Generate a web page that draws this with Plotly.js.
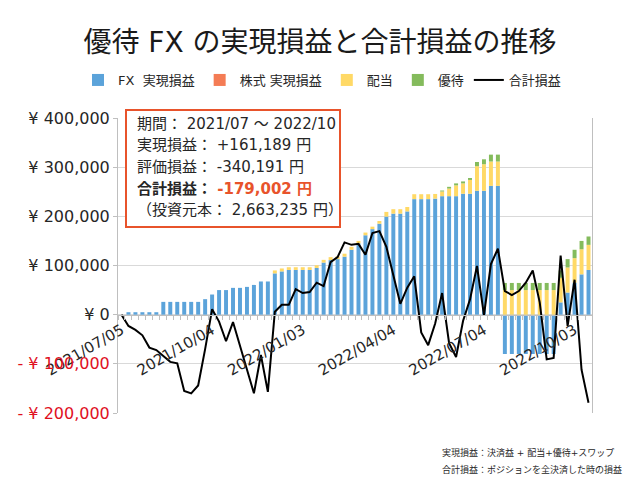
<!DOCTYPE html>
<html><head><meta charset="utf-8">
<script src="https://cdn.plot.ly/plotly-3.0.1.min.js"></script>
<style>html,body{margin:0;padding:0;background:#fff}#chart{width:640px;height:480px}</style>
</head><body><div id="chart"></div>
<script>
const weeks = [
 "2021/07/05","2021/07/12","2021/07/19","2021/07/26","2021/08/02","2021/08/09","2021/08/16","2021/08/23","2021/08/30","2021/09/06",
 "2021/09/13","2021/09/20","2021/09/27","2021/10/04","2021/10/11","2021/10/18","2021/10/25","2021/11/01","2021/11/08","2021/11/15",
 "2021/11/22","2021/11/29","2021/12/06","2021/12/13","2021/12/20","2021/12/27","2022/01/03","2022/01/10","2022/01/17","2022/01/24",
 "2022/01/31","2022/02/07","2022/02/14","2022/02/21","2022/02/28","2022/03/07","2022/03/14","2022/03/21","2022/03/28","2022/04/04",
 "2022/04/11","2022/04/18","2022/04/25","2022/05/02","2022/05/09","2022/05/16","2022/05/23","2022/05/30","2022/06/06","2022/06/13",
 "2022/06/20","2022/06/27","2022/07/04","2022/07/11","2022/07/18","2022/07/25","2022/08/01","2022/08/08","2022/08/15","2022/08/22",
 "2022/08/29","2022/09/05","2022/09/12","2022/09/19","2022/09/26","2022/10/03","2022/10/10","2022/10/17"
];
const fxRealized = [
 0,5000,5000,5000,5000,5000,26000,26000,26000,26000,
 26000,26000,31500,41000,50000,50000,54500,54500,56500,60500,
 67500,67500,84000,88000,91000,91000,91000,91000,95000,106000,
 111000,113000,118000,132000,145000,161500,174000,185000,199500,205500,
 205500,210000,235000,235000,235000,236000,241000,241000,241000,246000,
 246000,252000,252000,262000,262000,-80000,-80000,-80000,-80000,-80000,
 -80000,-80000,-80000,25000,45000,65000,82000,91000
];
const stockRealized = [
 0,0,0,0,0,0,0,0,0,0, 0,0,0,0,0,0,0,0,0,0, 0,0,0,0,0,0,0,0,0,0,
 0,0,0,0,0,0,0,0,0,0, 0,0,0,0,0,0,0,0,0,0, 0,0,0,0,0,0,0,0,0,0,
 0,0,0,0,0,0,0,0
];
const dividends = [
 0,0,0,0,0,0,0,0,0,0, 0,0,0,0,0,0,0,0,0,0, 0,0,
 6000,6000,5500,5500,5500,5500,5500,5500,
 6000,5500,6000,6000,5000,5500,5000,5500,9500,9000,
 9000,9000,10000,10000,10000,9500,9500,15500,22000,21000,
 28000,50000,54000,49500,49500,50000,50000,50000,50000,50000,
 50000,50000,50000,50000,51000,50000,51000,51000
];
const yutai = [
 0,0,0,0,0,0,0,0,0,0, 0,0,0,0,0,0,0,0,0,0, 0,0,0,0,0,0,0,0,0,0,
 0,0,0,0,0,0,0,0,0,0, 0,0,0,0,0,0,
 2000,3500,4000,4000,4000,8500,10000,14000,14000,
 14500,14500,14500,14500,14500,14500,14500,14500,
 15000,17000,17000,17000,17000
];
const totalPL = [
 0,-23000,-31000,-42000,-67000,-72000,-84000,-96000,-99000,-155000,
 -160000,-144000,-70000,11000,-14000,-54000,-15000,-65000,-110000,-160000,
 -82000,-157000,6000,20000,20000,52000,44000,46000,65000,58000,
 107000,117000,147000,142000,144000,122000,166000,170000,138000,82000,
 22000,55000,78000,-36000,-62000,-18000,44000,-58000,-86000,-13000,
 31000,99000,-1000,103000,134000,48000,40000,48000,65000,90000,
 25000,-91000,-88000,120000,-23000,71000,-112000,-179002
];
const xTickIdx = [0,13,26,39,52,65];
const yTickVals = [-200000,-100000,0,100000,200000,300000,400000];
const yTickText = [
 '<span style="color:#e0101e">- ¥ 200,000</span>',
 '<span style="color:#e0101e">- ¥ 100,000</span>',
 '¥ 0','¥ 100,000','¥ 200,000','¥ 300,000','¥ 400,000'
];
const seriesNames = ['FX\u00a0 実現損益','株式 実現損益','配当','優待','合計損益'];
const summaryLines = [
 '期間： 2021/07 ～ 2022/10',
 '実現損益： +161,189 円',
 '評価損益： -340,191 円',
 '<b>合計損益： </b><b><span style="color:#e8532b">-179,002 円</span></b>',
 '（投資元本： 2,663,235 円）'
];
const noteLines = [
 '実現損益：決済益 + 配当+優待+スワップ',
 '合計損益：ポジションを全決済した時の損益'
];

const xs = weeks.map((w, i) => i);
const FONT = 'DejaVu Sans, Noto Sans CJK JP, sans-serif';
const JFONT = 'DejaVu Sans, Noto Sans CJK JP, sans-serif';

const traces = [
 {type:'bar', name:seriesNames[0], x:xs, y:fxRealized, text:weeks, textposition:'none', marker:{color:'#5ba3da'}},
 {type:'bar', name:seriesNames[1], x:xs, y:stockRealized, marker:{color:'#f47c55'}},
 {type:'bar', name:seriesNames[2], x:xs, y:dividends, marker:{color:'#ffd966'}},
 {type:'bar', name:seriesNames[3], x:xs, y:yutai, marker:{color:'#84bb5c'}},
 {type:'scatter', mode:'lines', name:seriesNames[4], x:xs, y:totalPL, line:{color:'#000000', width:2}}
];

// plot area in px: left 118, right 592, top 118, bottom 413
const L=118, R=592, T=118, B=413;
const px = v => (v - L) / (R - L);
const py = v => (B - v) / (B - T);

const annotations = [];
const lineY = [124, 145, 167, 189, 210];
summaryLines.forEach((t, i) => annotations.push({
 xref:'paper', yref:'paper', x:px(135), y:py(lineY[i]), xanchor:'left', yanchor:'middle',
 text:t, showarrow:false, font:{family:JFONT, size:15, color:'#262626'}
}));
const noteY = [452, 469];
noteLines.forEach((t, i) => annotations.push({
 xref:'paper', yref:'paper', x:px(440), y:py(noteY[i]), xanchor:'left', yanchor:'middle',
 text:t, showarrow:false, font:{family:JFONT, size:9, color:'#262626'}
}));

const layout = {
 width:640, height:480,
 margin:{l:L, r:640-R, t:T, b:480-B},
 paper_bgcolor:'#ffffff', plot_bgcolor:'#ffffff',
 font:{family:FONT, color:'#262626'},
 title:{text:'優待 FX の実現損益と合計損益の推移', font:{family:JFONT, size:28, color:'#1a1a1a'},
        x:0.5, xanchor:'center', y:1-42/480, yanchor:'middle'},
 barmode:'relative', bargap:0.43,
 showlegend:true,
 legend:{orientation:'h', xref:'paper', x:px(78), xanchor:'left', yref:'paper', y:py(80), yanchor:'middle',
         traceorder:'normal', font:{family:JFONT, size:13, color:'#262626'}, itemwidth:30, bgcolor:'rgba(0,0,0,0)'},
 xaxis:{type:'linear', range:[-0.5, weeks.length-0.5], anchor:'free', position:1/3,
        showline:true, linecolor:'#bfbfbf', linewidth:1, showgrid:false, zeroline:false,
        tickmode:'array', tickvals:xTickIdx, ticktext:xTickIdx.map(i => weeks[i]),
        tickangle:-30, ticks:'', tickfont:{family:FONT, size:15, color:'#262626'},
        minor:{tickmode:'linear', tick0:-0.5, dtick:1, ticks:'outside', ticklen:4, tickcolor:'#bfbfbf', showgrid:false}},
 yaxis:{range:[-200000, 400000], tickmode:'array', tickvals:yTickVals, ticktext:yTickText,
        showgrid:true, gridcolor:'#d9d9d9', gridwidth:1, zeroline:false,
        showline:true, linecolor:'#bfbfbf', linewidth:1, mirror:true,
        ticks:'outside', ticklen:4, tickcolor:'#bfbfbf',
        tickfont:{family:FONT, size:16, color:'#262626'}},
 shapes:[{type:'rect', xref:'paper', yref:'paper', x0:px(126), x1:px(340), y0:py(227), y1:py(110),
          line:{color:'#e8532b', width:2}, fillcolor:'#ffffff', layer:'above'}],
 annotations:annotations
};

Plotly.newPlot('chart', traces, layout, {displayModeBar:false, staticPlot:true});
</script>
</body></html>
